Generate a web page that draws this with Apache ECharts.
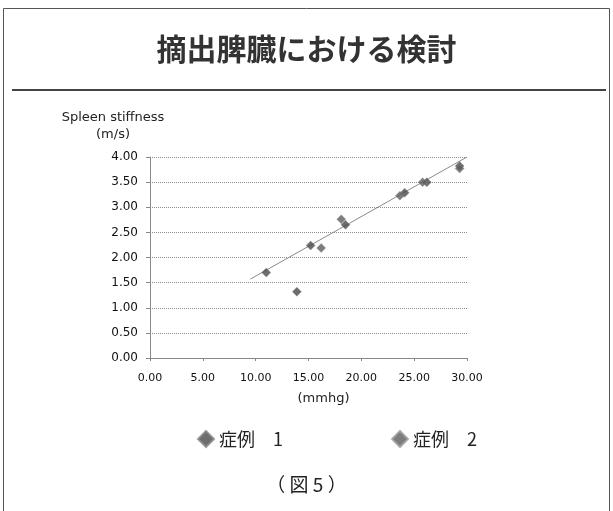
<!DOCTYPE html>
<html>
<head>
<meta charset="utf-8">
<script src="https://cdn.jsdelivr.net/npm/echarts@6/dist/echarts.min.js"></script>
<style>
  html, body { margin: 0; padding: 0; background: #fff; }
  #chart { width: 613px; height: 511px; }
</style>
</head>
<body>
<div id="chart"></div>
<script>
// Portal pressure (mmHg) vs spleen stiffness (m/s), two cases
const case1Pressure = [11.0, 13.9, 15.2, 18.5, 24.1, 26.2, 29.3];
const case1Stiffness = [1.70, 1.32, 2.24, 2.65, 3.29, 3.50, 3.82];
const case2Pressure = [16.2, 18.1, 23.65, 25.8, 29.3];
const case2Stiffness = [2.19, 2.76, 3.23, 3.50, 3.77];
// Linear fit endpoints
const trendPressure = [9.5, 30.0];
const trendStiffness = [1.57, 4.0];

const seriesNames = ['症例\u30001', '症例\u30002'];
const xTicks = { min: 0, max: 30, interval: 5 };
const yTicks = { min: 0, max: 4, interval: 0.5 };

const zip = (a, b) => a.map((v, i) => [v, b[i]]);

const chart = echarts.init(document.getElementById('chart'), null, { renderer: 'canvas' });
const cjk = '"Noto Sans CJK JP", "Noto Sans", sans-serif';
const latin = '"DejaVu Sans", sans-serif';

chart.setOption({
  backgroundColor: '#ffffff',
  animation: false,
  title: [{
    text: '摘出脾臓における検討',
    left: 'center',
    top: 29,
    textStyle: { fontFamily: cjk, fontSize: 30, fontWeight: 'bold', color: '#333' }
  }, {
    text: '（ 図 5 ）',
    left: 'center',
    top: 470,
    textStyle: { fontFamily: cjk, fontSize: 19, fontWeight: 'normal', color: '#222' }
  }],
  graphic: [
    { type: 'rect', shape: { x: 3.5, y: 8.5, width: 606, height: 510 },
      style: { fill: 'none', stroke: '#555', lineWidth: 1 }, silent: true },
    { type: 'line', shape: { x1: 12, y1: 90, x2: 606, y2: 90 },
      style: { stroke: '#444', lineWidth: 2 }, silent: true }
  ],
  legend: [{
    data: [{ name: seriesNames[0], icon: 'diamond' }],
    left: 192, top: 425,
    itemWidth: 16, itemHeight: 16, itemGap: 8,
    textStyle: { fontFamily: cjk, fontSize: 18, color: '#222' }
  }, {
    data: [{ name: seriesNames[1], icon: 'diamond' }],
    left: 386, top: 425,
    itemWidth: 16, itemHeight: 16, itemGap: 8,
    textStyle: { fontFamily: cjk, fontSize: 18, color: '#222' }
  }],
  grid: { left: 150, right: 146, top: 157, bottom: 153 },
  xAxis: {
    type: 'value',
    min: xTicks.min, max: xTicks.max, interval: xTicks.interval,
    name: '(mmhg)',
    nameLocation: 'middle',
    nameGap: 34,
    nameTextStyle: { fontFamily: latin, fontSize: 13, color: '#222', padding: [0, 0, 0, 30] },
    axisLine: { lineStyle: { color: '#888' } },
    axisTick: { show: true, length: 3, lineStyle: { color: '#888' } },
    splitLine: { show: false },
    axisLabel: {
      fontFamily: latin, fontSize: 11, color: '#111', margin: 15,
      formatter: v => v.toFixed(2)
    }
  },
  yAxis: {
    type: 'value',
    min: yTicks.min, max: yTicks.max, interval: yTicks.interval,
    name: 'Spleen stiffness\n(m/s)',
    nameLocation: 'end',
    nameGap: 14,
    nameTextStyle: {
      fontFamily: latin, fontSize: 13, color: '#222', align: 'center',
      lineHeight: 17, padding: [0, 74, 0, 0]
    },
    axisLine: { show: true, lineStyle: { color: '#888' } },
    axisTick: { show: true, length: 4, lineStyle: { color: '#888' } },
    splitLine: { show: true, lineStyle: { color: '#8c8c8c', type: [1, 1], width: 1 } },
    axisLabel: {
      fontFamily: latin, fontSize: 12, color: '#111', margin: 12,
      formatter: v => v.toFixed(2)
    }
  },
  series: [{
    name: 'trend',
    type: 'line',
    data: zip(trendPressure, trendStiffness),
    showSymbol: false,
    lineStyle: { color: '#8a8a8a', width: 1 },
    z: 1
  }, {
    name: seriesNames[0],
    type: 'scatter',
    symbol: 'diamond',
    symbolSize: 9,
    data: zip(case1Pressure, case1Stiffness),
    itemStyle: { color: '#484848', borderColor: '#8a8a8a', borderWidth: 0.5 },
    z: 3
  }, {
    name: seriesNames[1],
    type: 'scatter',
    symbol: 'diamond',
    symbolSize: 9,
    data: zip(case2Pressure, case2Stiffness),
    itemStyle: { color: '#5c5c5c', borderColor: '#a0a0a0', borderWidth: 0.5 },
    z: 3
  }]
});
</script>
</body>
</html>
